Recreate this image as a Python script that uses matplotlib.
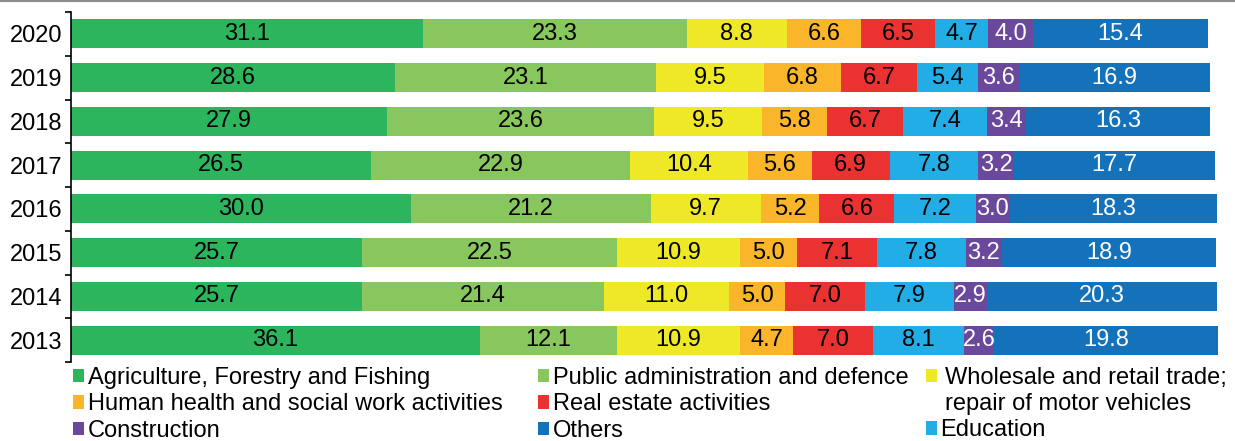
import matplotlib
matplotlib.use("Agg")
import matplotlib.pyplot as plt
from matplotlib.lines import Line2D
from matplotlib.patches import Rectangle
import numpy as np

plt.rcParams['font.family'] = ['Liberation Sans', 'DejaVu Sans']

years = ['2020', '2019', '2018', '2017', '2016', '2015', '2014', '2013']
sectors = ['Agriculture, Forestry and Fishing',
           'Public administration and defence',
           'Wholesale and retail trade;',
           'Human health and social work activities',
           'Real estate activities',
           'Education',
           'Construction',
           'Others']
extra_line = 'repair of motor vehicles'
colors = ['#2db55e', '#88c65e', '#efe827', '#fbb52b', '#ea3331', '#22ade6', '#6a489c', '#1472bb']
text_colors = ['black', 'black', 'black', 'black', 'black', 'black', 'white', 'white']

agri = [31.1, 28.6, 27.9, 26.5, 30.0, 25.7, 25.7, 36.1]
public = [23.3, 23.1, 23.6, 22.9, 21.2, 22.5, 21.4, 12.1]
wholesale = [8.8, 9.5, 9.5, 10.4, 9.7, 10.9, 11.0, 10.9]
health = [6.6, 6.8, 5.8, 5.6, 5.2, 5.0, 5.0, 4.7]
realestate = [6.5, 6.7, 6.7, 6.9, 6.6, 7.1, 7.0, 7.0]
education = [4.7, 5.4, 7.4, 7.8, 7.2, 7.8, 7.9, 8.1]
construction = [4.0, 3.6, 3.4, 3.2, 3.0, 3.2, 2.9, 2.6]
others = [15.4, 16.9, 16.3, 17.7, 18.3, 18.9, 20.3, 19.8]
series = [agri, public, wholesale, health, realestate, education, construction, others]

FS = 17

fig = plt.figure(figsize=(12.35, 4.41), dpi=100)
ax = fig.add_axes([71 / 1235, 79 / 441, 1 - 71 / 1235, 350 / 441])

y = np.arange(len(years))
left = np.zeros(len(years))
handles = {}
for name, vals, c, tc in zip(sectors, series, colors, text_colors):
    bars = ax.barh(y, vals, left=left, height=0.66, color=c, label=name)
    ax.bar_label(bars, labels=['%.1f' % v for v in vals], label_type='center',
                 color=tc, fontsize=FS)
    handles[name] = bars
    left += np.array(vals)

ax.set_xlim(0, 102.8)
ax.set_ylim(len(years) - 0.5, -0.5)
ax.set_yticks(y)
ax.set_yticklabels(years, fontsize=FS)
ax.set_yticks(np.arange(-0.5, len(years)), minor=True)
ax.tick_params(axis='y', which='major', length=0, pad=6)
ax.tick_params(axis='y', which='minor', length=4, width=1.2, direction='out')
ax.set_xticks([])
for s in ['top', 'right', 'bottom']:
    ax.spines[s].set_visible(False)
ax.spines['left'].set_linewidth(1.2)

# legend: separate columns, like the original layout
blank = Rectangle((0, 0), 1, 1, alpha=0)
handles[extra_line] = blank
cols = [
    (73, 0.17, [sectors[0], sectors[3], sectors[6]]),
    (538, 0.17, [sectors[1], sectors[4], sectors[7]]),
    (926, 0.35, [sectors[2], extra_line]),
    (926, 0.15, [sectors[5]]),
]
tops = [74, 74, 74, 74 - 52.5]
for (xpix, pad, names), top in zip(cols, tops):
    fig.legend([handles[n] for n in names], names, loc='upper left',
               bbox_to_anchor=(xpix / 1235, top / 441), frameon=False,
               fontsize=FS, borderpad=0, borderaxespad=0,
               handlelength=0.45, handleheight=0.5, handletextpad=pad,
               labelspacing=0.19)

fig.add_artist(Line2D([0, 1], [1 - 1 / 441, 1 - 1 / 441], transform=fig.transFigure,
                      color='#8c8c8c', lw=1.5))

fig.savefig('out.png', dpi=100)
